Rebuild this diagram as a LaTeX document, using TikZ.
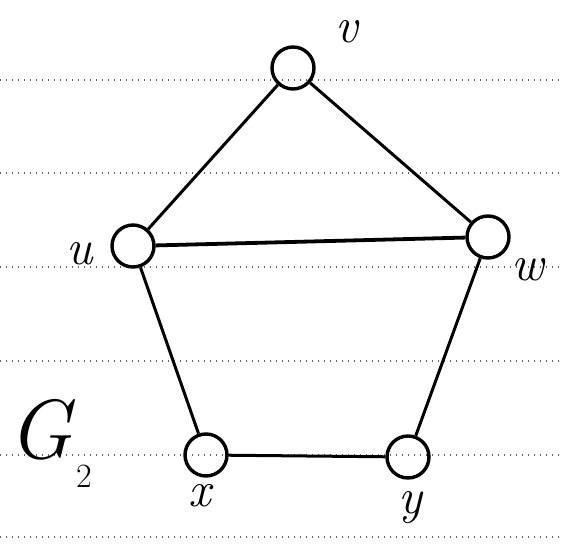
\documentclass[tikz,border=0pt]{standalone}
\usepackage{fontspec}
\definecolor{rulecol}{RGB}{95,95,135}
\tikzset{
  vert/.style={circle,draw,line width=3.4pt,minimum size=42pt,inner sep=0pt},
  edge/.style={line width=3pt},
  heavyedge/.style={line width=3.8pt},
  ruled/.style={line width=1.4pt,color=rulecol,dash pattern=on 1.4pt off 4.6pt},
  lab/.style={inner sep=0pt,font=\fontsize{50}{50}\selectfont\itshape},
  biglab/.style={inner sep=0pt,font=\fontsize{84}{84}\selectfont\itshape}
}
\begin{document}
\begin{tikzpicture}[x=1pt,y=1pt]
\useasboundingbox (0,0) rectangle (564,546);
% ruled paper lines
\foreach \ly in {466,373,279,185,91,9}
  \draw[ruled] (0,\ly) -- (564,\ly);
% vertices
\node[vert] (v) at (293,478) {};
\node[vert] (u) at (133,300) {};
\node[vert] (w) at (488,309) {};
\node[vert] (x) at (206,91) {};
\node[vert] (y) at (408,89) {};
% edges
\draw[edge] (v) -- (u);
\draw[edge] (v) -- (w);
\draw[heavyedge] (u) -- (w);
\draw[edge] (u) -- (x);
\draw[edge] (w) -- (y);
\draw[edge] (x) -- (y);
% labels
\node[lab] (lv) at (347,514) {v};
\node[lab] (lu) at (80,292) {u};
\node[lab] (lw) at (528,276) {w};
\node[lab] (lx) at (200,50) {x};
\node[lab] (ly) at (410,38) {y};
\node[biglab] (lg) at (40,116) {G};
\node[inner sep=0pt,font=\fontsize{34}{34}\selectfont] (lg2) at (84,70) {2};
\end{tikzpicture}
\end{document}
